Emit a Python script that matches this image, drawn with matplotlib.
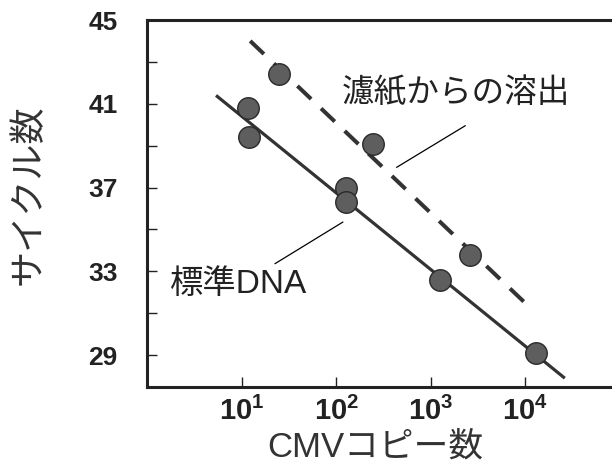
import numpy as np
import matplotlib
matplotlib.use("Agg")
import matplotlib.pyplot as plt

plt.rcParams['font.family'] = ['Liberation Sans', 'Noto Sans CJK JP', 'DejaVu Sans']
plt.rcParams['mathtext.fontset'] = 'custom'
plt.rcParams['mathtext.rm'] = 'Liberation Sans:bold'
plt.rcParams['mathtext.it'] = 'Liberation Sans:bold'
plt.rcParams['mathtext.bf'] = 'Liberation Sans:bold'

# 標準DNA (実線)
std_x = [11.6, 11.8, 126, 126, 1260, 12900]
std_y = [40.8, 39.4, 36.97, 36.3, 32.6, 29.1]
std_fit_x = [5.3, 26300]
std_fit_y = [41.4, 27.9]

# 濾紙からの溶出 (破線)
fp_x = [24.8, 245, 2630]
fp_y = [42.4, 39.1, 33.76]
fp_fit_x = [12.2, 10500]
fp_fit_y = [44.0, 31.4]

y_ticks = [29, 31, 33, 35, 37, 39, 41, 43, 45]
y_labels = ['29', '', '33', '', '37', '', '41', '', '45']
x_ticks = [10, 100, 1000, 10000]
x_labels = [r'$10^{1}$', r'$10^{2}$', r'$10^{3}$', r'$10^{4}$']

fig = plt.figure(figsize=(6.12, 4.67), dpi=100)
ax = fig.add_axes([147 / 612, 1 - 387 / 467, 465 / 612, 367 / 467])

ax.set_xscale('log')
ax.set_xlim(10 ** -0.007, 10 ** 4.92)
ax.set_ylim(27.48, 45.0)

# 回帰線
ax.plot(std_fit_x, std_fit_y, color='#333333', lw=2.3, solid_capstyle='butt', zorder=2)
ax.plot(fp_fit_x, fp_fit_y, color='#333333', lw=2.9, dashes=(4.7, 3.4),
        dash_capstyle='butt', zorder=2)

# データ点
ax.plot(std_x, std_y, 'o', ms=15.5, mfc='#5e5e5e', mec='#2a2a2a', mew=1, zorder=3)
ax.plot(fp_x, fp_y, 'o', ms=15.5, mfc='#5e5e5e', mec='#2a2a2a', mew=1, zorder=3)

# 注釈線とラベル
ax.plot([436, 2312], [37.97, 39.95], color='black', lw=0.9, zorder=2)
ax.plot([22.4, 116.7], [33.37, 35.35], color='black', lw=0.9, zorder=2)
ax.text(1860, 41.48, '濾紙からの溶出', fontsize=23.5, ha='center', va='center', color='#222222')
ax.text(9.1, 32.38, '標準DNA', fontsize=24, ha='center', va='center', color='#222222')

ax.set_yticks(y_ticks)
ax.set_yticklabels(y_labels, fontsize=19, fontweight='bold', color='#222222')
ax.set_xticks(x_ticks)
ax.set_xticklabels(x_labels, fontsize=21, color='#222222')
ax.xaxis.set_minor_locator(matplotlib.ticker.NullLocator())
ax.tick_params(axis='y', direction='in', length=7, width=1, pad=21, colors='#222222')
ax.tick_params(axis='x', direction='in', length=7, width=1, pad=7, colors='#222222')

for side in ['left', 'bottom', 'top']:
    ax.spines[side].set_linewidth(2.2)
    ax.spines[side].set_color('#222222')
ax.spines['right'].set_visible(False)

ax.set_ylabel('サイクル数', fontsize=26, color='#333333')
ax.yaxis.set_label_coords(-0.215, 0.523)
ax.set_xlabel('CMVコピー数', fontsize=25, color='#333333')
ax.xaxis.set_label_coords(0.49, -0.118)

fig.savefig('out.png', dpi=100)
